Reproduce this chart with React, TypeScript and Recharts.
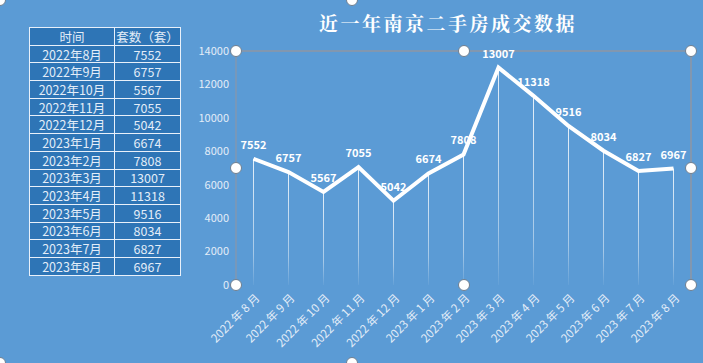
import { ComposedChart, Line, Bar, XAxis, YAxis, LabelList } from 'recharts';

const months = [
  '2022年8月', '2022年9月', '2022年10月', '2022年11月', '2022年12月', '2023年1月', '2023年2月',
  '2023年3月', '2023年4月', '2023年5月', '2023年6月', '2023年7月', '2023年8月',
];
const sales = [7552, 6757, 5567, 7055, 5042, 6674, 7808, 13007, 11318, 9516, 8034, 6827, 6967];
const yTicks = [0, 2000, 4000, 6000, 8000, 10000, 12000, 14000];
const boundaryTicks = [0, 1, 2, 3, 4, 5, 6, 7, 8, 9, 10, 11, 12, 13];

const data = months.map((m, i) => ({ month: m, value: sales[i], idx: i + 0.5 }));

const W = 703;
const H = 363;
const BG = '#5b9bd5';
const CELL = '#2e75b6';
const TXT = '#e3edf8';
const BORDER = '#8197b0';
const FONT = '"Noto Sans CJK SC", "Noto Sans", sans-serif';
const XH = 78;
const M = { top: 51, right: 12, bottom: 0, left: 186 };
const YW = 50;
const px0 = M.left + YW;
const px1 = W - M.right;
const py0 = M.top;
const py1 = H - XH;

// axis label "2022年8月" -> "2022 年 8 月"
const spaced = (s: string) => s.replace('年', ' 年 ').replace('月', ' 月');

function XTick({ x, y, payload }: any) {
  return (
    <g transform={`translate(${x + 4},${y + 9})`}>
      <text textAnchor="end" transform="rotate(-45)" dy="0.35em" fill={TXT} fontSize={11.5} fontFamily={FONT}>
        {spaced(payload.value)}
      </text>
    </g>
  );
}

const handles = [
  [px0, py0], [(px0 + px1) / 2, py0], [px1, py0],
  [px0, (py0 + py1) / 2], [px1, (py0 + py1) / 2],
  [px0, py1], [(px0 + px1) / 2, py1], [px1, py1],
  [0, 0], [352, 0], [0, H], [352, H],
];

const cell = { border: '1px solid #e8f0fa', background: CELL, padding: 0 };

export default function App() {
  return (
    <div style={{ position: 'absolute', left: 0, top: 0, width: W, height: H, background: BG, overflow: 'hidden', fontFamily: FONT }}>
      <table
        style={{
          position: 'absolute', left: 29, top: 27, width: 152, borderCollapse: 'collapse',
          color: TXT, fontSize: 12.5, textAlign: 'center', lineHeight: '15px',
        }}
      >
        <tbody>
          <tr style={{ height: 17.7 }}>
            <td style={{ ...cell, width: 84 }}>时间</td>
            <td style={cell}>套数（套）</td>
          </tr>
          {months.map((m, i) => (
            <tr key={m} style={{ height: 17.7 }}>
              <td style={cell}>{m}</td>
              <td style={cell}>{sales[i]}</td>
            </tr>
          ))}
        </tbody>
      </table>

      <div
        style={{
          position: 'absolute', left: 0, top: 9, width: 896, textAlign: 'center', color: '#fff',
          fontSize: 19, fontWeight: 700, letterSpacing: 2.5, fontFamily: '"Noto Serif CJK SC", serif',
        }}
      >
        近一年南京二手房成交数据
      </div>

      <div style={{ position: 'absolute', left: px0, top: py0 - 0.75, width: px1 - px0, height: 1.5, background: BORDER }} />
      <div style={{ position: 'absolute', left: px1 - 0.75, top: py0, width: 1.5, height: py1 - py0, background: BORDER }} />

      <div style={{ position: 'absolute', left: 0, top: 0 }}>
        <ComposedChart width={W} height={H} data={data} margin={M}>
          <defs>
            <linearGradient id="drop" x1="0" y1="0" x2="0" y2="1">
              <stop offset="0%" stopColor="#ffffff" stopOpacity={0.85} />
              <stop offset="75%" stopColor="#ffffff" stopOpacity={0.45} />
              <stop offset="100%" stopColor="#ffffff" stopOpacity={0.05} />
            </linearGradient>
          </defs>
          <XAxis
            dataKey="month"
            xAxisId="cat"
            interval={0}
            axisLine={false}
            tickLine={false}
            tickSize={0}
            tick={<XTick />}
            height={XH}
          />
          <XAxis
            xAxisId="num"
            type="number"
            dataKey="idx"
            domain={[0, 13]}
            ticks={boundaryTicks}
            tick={false}
            tickSize={4}
            tickLine={{ stroke: '#e6edf5' }}
            axisLine={{ stroke: '#d3dbe4', strokeWidth: 1.5 }}
            height={0}
          />
          <YAxis
            yAxisId="v"
            domain={[0, 14000]}
            ticks={yTicks}
            width={YW}
            tickLine={false}
            tickSize={0}
            tickMargin={7}
            axisLine={{ stroke: BORDER, strokeWidth: 1.5 }}
            tick={{ fill: TXT, fontSize: 11, fontFamily: FONT }}
          />
          <Bar xAxisId="cat" yAxisId="v" dataKey="value" barSize={1} fill="url(#drop)" isAnimationActive={false} />
          <Line
            xAxisId="cat"
            yAxisId="v"
            type="linear"
            dataKey="value"
            stroke="#ffffff"
            strokeWidth={4}
            dot={false}
            activeDot={false}
            isAnimationActive={false}
          >
            <LabelList dataKey="value" position="top" offset={10} fill="#ffffff" fontSize={11} fontWeight={600} fontFamily={FONT} />
          </Line>
        </ComposedChart>
      </div>

      {handles.map(([hx, hy], i) => (
        <div
          key={i}
          style={{
            position: 'absolute', left: hx - 6, top: hy - 6, width: 10, height: 10, borderRadius: '50%',
            background: '#fff', border: '1px solid #6f7f90',
          }}
        />
      ))}
    </div>
  );
}
